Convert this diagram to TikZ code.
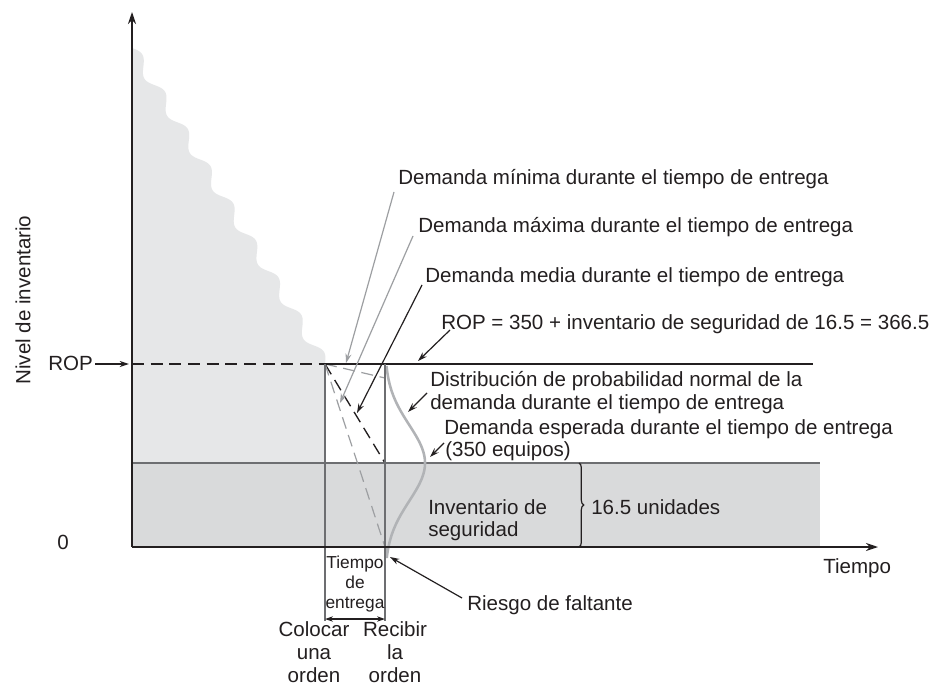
\documentclass[tikz,border=0pt]{standalone}
\usepackage{fontspec}
\setmainfont{Liberation Sans}
\usetikzlibrary{arrows.meta,decorations.pathreplacing}
\definecolor{ink}{HTML}{231F20}
\definecolor{ptgray}{HTML}{9D9FA2}
\definecolor{curvegray}{HTML}{B1B3B6}
\definecolor{lightfill}{HTML}{E6E7E8}
\definecolor{bandfill}{HTML}{D9DADB}
\definecolor{vline}{HTML}{6D6E71}
\begin{document}
\begin{tikzpicture}[x=0.75pt,y=-0.75pt,
  txt/.style={font=\fontsize{15.4}{18}\selectfont, text=ink, inner sep=0pt},
  smalltxt/.style={font=\fontsize{13}{15}\selectfont, text=ink, inner sep=0pt},
  ptr/.style={draw=ink, line width=0.9pt, -{Stealth[length=7pt,width=4.5pt]}},
  gptr/.style={draw=ptgray, line width=0.9pt, -{Stealth[length=7pt,width=4.5pt]}},
  axisline/.style={draw=ink, line width=1.1pt, -{Stealth[length=9pt,width=6pt]}},
  blkdash/.style={draw=ink, line width=1pt, dash pattern=on 9pt off 5pt},
  grydash/.style={draw=ptgray, line width=0.9pt, dash pattern=on 9pt off 5pt},
  vguide/.style={draw=vline, line width=1.1pt}
]
\useasboundingbox (0,0) rectangle (937,688);
\fill[white] (0,0) rectangle (937,688);

% inventory area with wavy edge
\fill[lightfill] plot[domain=0:1, samples=400, variable=\s]
  ({132+193*\s+5.4*sin(360*8.5*\s)*0.8534}, {48+316*\s-5.4*sin(360*8.5*\s)*0.5212})
  -- (325,463) -- (132,463) -- cycle;

% safety stock band
\fill[bandfill] (132,463) rectangle (820,547);
\draw[draw=vline, line width=0.8pt] (132,463) -- (820,463);

% coordinates
\coordinate (orig) at (132,547);
\coordinate (ytop) at (132,12);
\coordinate (xend) at (878,547);
\coordinate (rop0) at (132,364);
\coordinate (place) at (325,364);
\coordinate (recv) at (385,364);
\coordinate (ropend) at (813,364);
\coordinate (meanend) at (385,463);
\coordinate (maxend) at (385,547);
\coordinate (minend) at (385,378);
\coordinate (placebot) at (325,621);
\coordinate (recvbot) at (385,621);
\coordinate (ltL) at (325,619);
\coordinate (ltR) at (385,619);

% demand lines
\draw[blkdash] (rop0) -- (place);
\draw[blkdash] (place) -- (meanend);
\draw[grydash] (place) -- (maxend);
\draw[grydash] (place) -- (minend);
\draw[draw=ink, line width=1.1pt] (place) -- (ropend);

% normal distribution
\fill[curvegray] plot[domain=547:558, samples=20, variable=\t]
  ({385+40*exp(-0.5*((\t-463)/38)^2)}, {\t}) -- (385,558) -- (385,547) -- cycle;
\draw[draw=curvegray, line width=1.9pt] plot[domain=366:558, samples=150, variable=\t]
  ({385+40*exp(-0.5*((\t-463)/38)^2)}, {\t});

% guides
\draw[vguide] (place) -- (placebot);
\draw[vguide] (recv) -- (recvbot);
\draw[draw=ink, line width=0.9pt, {Stealth[length=6pt,width=4pt]}-{Stealth[length=6pt,width=4pt]}] (ltL) -- (ltR);

% axes
\draw[axisline] (orig) -- (ytop);
\draw[axisline] (orig) -- (xend);

% brace
\draw[draw=ink, line width=0.9pt, decorate, decoration={brace, amplitude=3.5pt}] (579,463) -- (579,547);

% labels
\node[txt, rotate=90] (ylab) at (23,300) {Nivel de inventario};
\node[txt, anchor=base west] (ropl) at (48,370) {ROP};
\coordinate (roparS) at (95,364);
\coordinate (roparT) at (129,364);
\draw[ptr] (roparS) -- (roparT);
\node[txt, anchor=base] (zero) at (63,549) {0};
\node[txt, anchor=base west] (tiempo) at (823,573) {Tiempo};

\node[txt, anchor=base west] (tMin) at (398,184) {Demanda mínima durante el tiempo de entrega};
\node[txt, anchor=base west] (tMax) at (418,232) {Demanda máxima durante el tiempo de entrega};
\node[txt, anchor=base west] (tMed) at (425,282) {Demanda media durante el tiempo de entrega};
\node[txt, anchor=base west] (tRop) at (441,329) {ROP = 350 + inventario de seguridad de 16.5 = 366.5};
\node[txt, anchor=base west] (tDis1) at (430,386) {Distribución de probabilidad normal de la};
\node[txt, anchor=base west] (tDis2) at (430,409) {demanda durante el tiempo de entrega};
\node[txt, anchor=base west] (tEsp1) at (444,434) {Demanda esperada durante el tiempo de entrega};
\node[txt, anchor=base west] (tEsp2) at (445,456) {(350 equipos)};
\node[txt, anchor=base west] (tInv1) at (428,514) {Inventario de};
\node[txt, anchor=base west] (tInv2) at (428,536) {seguridad};
\node[txt, anchor=base west] (tUni) at (591,514) {16.5 unidades};
\node[txt, anchor=base west] (tRie) at (467,610) {Riesgo de faltante};

\node[smalltxt, anchor=base] (te1) at (355,568) {Tiempo};
\node[smalltxt, anchor=base] (te2) at (355,588) {de};
\node[smalltxt, anchor=base] (te3) at (355,608) {entrega};

\node[txt, anchor=base] (co1) at (314,636) {Colocar};
\node[txt, anchor=base] (co2) at (314,659) {una};
\node[txt, anchor=base] (co3) at (314,682) {orden};
\node[txt, anchor=base] (re1) at (395,636) {Recibir};
\node[txt, anchor=base] (re2) at (395,659) {la};
\node[txt, anchor=base] (re3) at (395,682) {orden};

% pointers
\coordinate (pMinS) at (394,192);  \coordinate (pMinT) at (346,363);
\coordinate (pMaxS) at (413,236);  \coordinate (pMaxT) at (340,403);
\coordinate (pMedS) at (422,285);  \coordinate (pMedT) at (357,413);
\coordinate (pRopS) at (450,330);  \coordinate (pRopT) at (418,361);
\coordinate (pDisS) at (427,393);  \coordinate (pDisT) at (408,412);
\coordinate (pEspS) at (444,443);  \coordinate (pEspT) at (430,457);
\coordinate (pRieS) at (462,598);  \coordinate (pRieT) at (390,557);
\draw[gptr] (pMinS) -- (pMinT);
\draw[gptr] (pMaxS) -- (pMaxT);
\draw[ptr] (pMedS) -- (pMedT);
\draw[ptr] (pRopS) -- (pRopT);
\draw[ptr] (pDisS) -- (pDisT);
\draw[ptr] (pEspS) -- (pEspT);
\draw[ptr] (pRieS) -- (pRieT);
\end{tikzpicture}
\end{document}
